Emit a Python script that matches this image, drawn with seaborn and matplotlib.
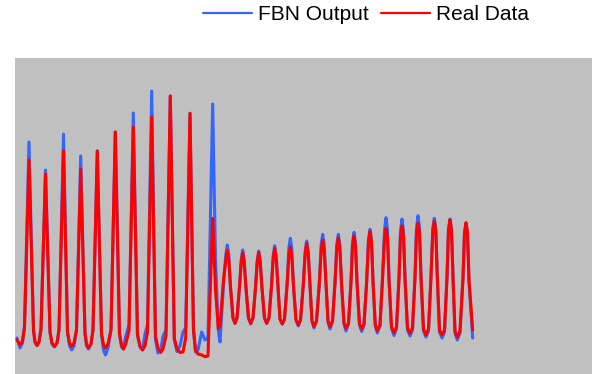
"""FBN output vs real data: overlaid time series on a grey panel."""

import matplotlib.pyplot as plt
import pandas as pd
import seaborn as sns

# vertices (time step, value)
TIME = [
    17, 20, 22.5, 24.5, 29, 33.5, 35, 37, 39, 41,
    45.5, 50, 52, 54.5, 57, 59, 63.5, 67.5, 69.5, 71.7,
    74, 76.5, 80.7, 85, 86.5, 88.5, 91, 93, 97.3, 101.5,
    103.5, 105.5, 108, 111, 115.3, 119.5, 121.5, 123.5, 125.5, 129,
    133.3, 137.5, 140, 142.5, 145, 147.5, 151.7, 155.5, 158, 160.7,
    163, 166, 170.3, 174.3, 177, 180, 183, 185.7, 190, 193.5,
    195.5, 198, 201.7, 205, 208, 212.7, 215.5, 218.3, 220,
    223.5, 225.8, 227.3, 228.8, 230.5, 233, 235, 237,
    239.5, 241.2, 242.7, 244.2, 246, 248.5, 250.7, 253,
    255.5, 257.2, 258.7, 260.2, 262, 264.5, 266.7, 269,
    271.5, 273.2, 274.7, 276.2, 278, 280, 282.3, 284.5,
    287, 288.8, 290.3, 291.8, 293.5, 296, 298.3, 300.5,
    303.3, 305.2, 306.7, 308.2, 310, 312, 314, 316.5,
    319.3, 321.2, 322.7, 324.2, 326, 328, 330, 332.5,
    335, 336.8, 338.3, 339.8, 341.5, 344, 346, 348.5,
    351, 352.5, 354, 355.5, 357, 359.5, 361.7, 364,
    366.7, 368.5, 370, 371.5, 373, 375.3, 377.3, 380,
    382.5, 384.5, 386, 387.5, 389, 391.5, 394, 396.5,
    399, 400.5, 402, 403.5, 405, 407.5, 410, 412.5,
    415, 416.5, 418, 419.5, 421, 423.5, 426, 428.5,
    431, 432.8, 434.3, 435.8, 437.3, 439.5, 442, 444.5,
    447, 448.5, 450, 451.5, 453, 455, 457.3, 460,
    463, 464.5, 466, 467.5, 469, 472.7,
]

FBN_OUTPUT = [
    36, 26, 31, 49, 232, 44, 32, 28.5, 32, 46,
    204, 42, 30, 27, 31, 44, 240, 42, 28, 24,
    28, 44, 218, 41, 28, 25, 30, 44, 223, 39,
    24, 19, 26, 44, 242, 40, 27, 25, 37, 49,
    261, 39, 27, 24, 40, 49, 283, 34, 21, 24,
    38, 44, 278, 34, 22.5, 28, 42, 46, 260.7, 44,
    22, 24, 42, 34, 36, 270, 114, 44, 32,
    89, 119, 129, 119, 87, 56, 50.7, 56,
    87, 114, 124, 114, 86, 56, 50, 56,
    86, 113, 123, 113, 86, 56, 50.7, 56,
    88, 118.3, 128.3, 118.3, 87, 55, 50, 55,
    88, 125.7, 135.7, 125.7, 88, 54, 48, 54,
    89, 123, 133, 123, 89, 53, 46, 53,
    90, 129.7, 139.7, 129.7, 90, 52, 45, 52,
    91, 129.7, 139.7, 129.7, 91, 50, 43, 50,
    92, 131.7, 141.7, 131.7, 92, 49, 42.5, 49,
    93, 134.7, 144.7, 134.7, 93, 48, 41, 48,
    96, 144, 156.3, 144, 96, 46, 38.5, 45,
    97, 143, 155, 143, 97, 44, 38, 44,
    98, 146, 158.3, 146, 98, 43, 37, 43,
    98, 145.7, 155.7, 145.7, 98, 42, 36, 42,
    97, 145, 155, 145, 97, 41, 34, 41,
    96, 140.7, 150.7, 140.7, 92, 36,
]

REAL_DATA = [
    34, 29, 33, 46, 214, 44, 32, 28.5, 32, 44,
    200, 42, 31, 27.5, 31, 44, 223, 42, 31, 27.5,
    31, 44, 205, 41, 30, 26, 30, 44, 223, 41,
    29, 26, 30, 44, 242, 40, 29, 25, 29, 43,
    247, 39, 28, 24, 28, 42, 257, 38, 26, 21.5,
    25, 38, 278, 36, 25, 21.5, 22, 36, 260.7, 44,
    24, 20, 19, 17.3, 18, 155.7, 84, 45.7, 48,
    94, 114, 124, 114, 87, 56, 50.7, 56,
    87, 111.3, 121.3, 111.3, 86, 56, 50.7, 56,
    86, 111.7, 121.7, 111.7, 86, 56, 50.7, 56,
    88, 115.7, 125.7, 115.7, 87, 55, 50, 55,
    88, 117.3, 127.3, 117.3, 88, 54, 49, 54,
    89, 120.7, 130.7, 120.7, 89, 53, 47.3, 53,
    90, 124, 134, 124, 90, 53, 47.3, 53,
    91, 126.3, 136.3, 126.3, 91, 51, 45.7, 51,
    92, 128, 138, 128, 92, 50, 45, 50,
    93, 132.3, 142.3, 132.3, 93, 49, 43.3, 49,
    94, 135.7, 145.7, 135.7, 94, 47, 41.3, 47,
    95, 138, 148, 138, 95, 46, 40.7, 46,
    96, 140.7, 150.7, 140.7, 96, 45, 39, 45,
    97, 143, 153, 143, 97, 44, 39, 44,
    97, 144, 154, 144, 97, 43, 36.7, 43,
    96, 141.3, 151.3, 141.3, 94, 44,
]

SERIES_NAMES = ["FBN Output", "Real Data"]
SERIES_COLORS = ["#3366ff", "#ff0000"]


def main():
    df = pd.DataFrame({"time": TIME, "FBN Output": FBN_OUTPUT, "Real Data": REAL_DATA})
    long_df = df.melt(id_vars="time", var_name="series", value_name="value")

    sns.set_theme(style="white")
    plt.rcParams["font.family"] = ["Liberation Sans", "DejaVu Sans"]

    fig = plt.figure(figsize=(5.92, 3.74), dpi=100)
    ax = fig.add_axes([15 / 592, 0, 577 / 592, 316 / 374])
    ax.set_facecolor("#c0c0c0")

    sns.lineplot(
        data=long_df, x="time", y="value", hue="series",
        hue_order=SERIES_NAMES, palette=SERIES_COLORS,
        estimator=None, sort=False, linewidth=2.2, ax=ax, legend=False,
    )

    ax.set_xlim(15, 592)
    ax.set_ylim(0, 316)
    ax.set_xticks([])
    ax.set_yticks([])
    ax.set_xlabel("")
    ax.set_ylabel("")
    for spine in ax.spines.values():
        spine.set_visible(False)

    handles = [plt.Line2D([], [], color=c, lw=1.6) for c in SERIES_COLORS]
    fig.legend(
        handles, SERIES_NAMES, loc="center", bbox_to_anchor=(366 / 592, 1 - 15 / 374),
        ncol=2, frameon=False, fontsize=15, handlelength=2.35,
        handletextpad=0.3, columnspacing=0.55, borderpad=0, borderaxespad=0,
        labelcolor="black",
    )

    fig.savefig("out.png", dpi=100)


if __name__ == "__main__":
    main()
